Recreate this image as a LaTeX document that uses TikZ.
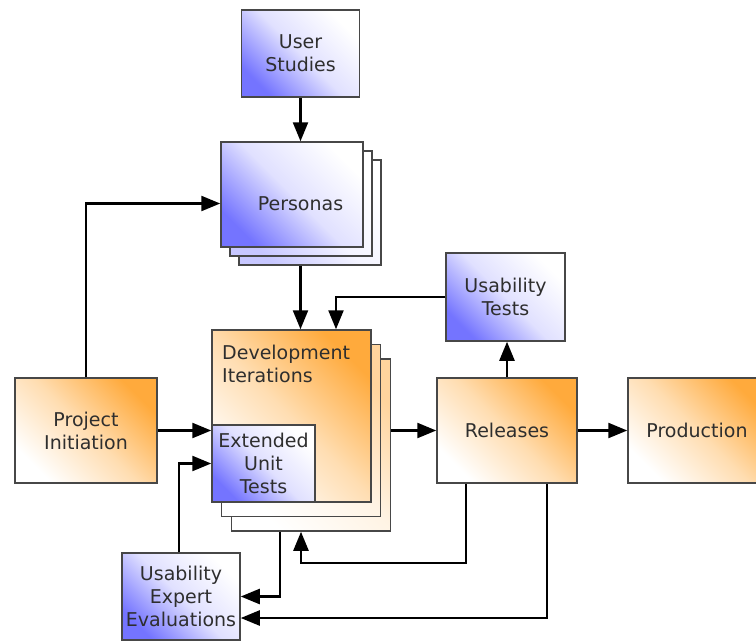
\documentclass[tikz,border=0pt]{standalone}
\usepackage{fontspec}
\setmainfont{DejaVu Sans}
\usetikzlibrary{arrows.meta,calc}
\definecolor{edge}{HTML}{474747}
\definecolor{ink}{HTML}{2E2E2E}
\definecolor{bluedeep}{HTML}{7474FF}
\definecolor{orangedeep}{HTML}{FFAA3C}
\tikzset{
  box/.style={draw=edge, line width=1.5pt, inner sep=0pt, align=center,
    text=ink, font=\fontsize{19}{23}\selectfont},
  bluebox/.style={box, top color=white, bottom color=bluedeep,
    middle color=bluedeep!22!white, shading angle=-45},
  bluelayer/.style={box, top color=white, bottom color=bluedeep!40!white,
    middle color=bluedeep!8!white, shading angle=-45},
  orangebox/.style={box, top color=orangedeep, bottom color=white,
    middle color=orangedeep!40!white, shading angle=-45},
  orangelayer/.style={box, top color=orangedeep!50!white, bottom color=white,
    middle color=orangedeep!14!white, shading angle=-45},
  label/.style={inner sep=0pt, align=center, text=ink, font=\fontsize{19}{23}\selectfont},
  flow/.style={draw=black, line width=2.4pt, -{Triangle[length=19pt,width=15pt]}},
}
\begin{document}
\begin{tikzpicture}[x=1pt, y=-1pt]
\useasboundingbox (0,0) rectangle (756,641);
\fill[white] (0,0) rectangle (756,641);
\clip (0,0) rectangle (756,641);

% user research
\node[bluebox, minimum width=118pt, minimum height=87pt] (us) at (300.5,53.5) {User\\Studies};

% personas stack
\node[bluelayer, minimum width=142pt, minimum height=105pt] (pers3) at (310,212.5) {};
\node[bluelayer, minimum width=142pt, minimum height=105pt] (pers2) at (301,203.5) {};
\node[bluebox, minimum width=142pt, minimum height=105pt] (pers1) at (292,194.5) {};
\node[label] (ptext) at (300.5,203.5) {Personas};

% development iterations stack
\node[orangelayer, minimum width=159pt, minimum height=172pt] (dev3) at (311,445) {};
\node[orangelayer, minimum width=159pt, minimum height=172pt] (dev2) at (301,430.5) {};
\node[orangebox, minimum width=159pt, minimum height=172pt] (dev1) at (291.5,416) {};
\node[label, align=left, anchor=north west] (devtext) at (222,345) {Development\\Iterations};
\node[bluebox, minimum width=103pt, minimum height=77pt] (eut) at (263.5,463.5) {Extended\\Unit\\Tests};

% remaining boxes
\node[orangebox, minimum width=142pt, minimum height=105pt] (pi) at (86,430.5) {Project\\Initiation};
\node[bluebox, minimum width=119pt, minimum height=88pt] (ut) at (505.5,297) {Usability\\Tests};
\node[orangebox, minimum width=140pt, minimum height=105pt] (rel) at (507,430.5) {Releases};
\node[orangebox, minimum width=138pt, minimum height=105pt] (prod) at (697,430.5) {Production};
\node[bluebox, minimum width=118pt, minimum height=87pt] (uee) at (181,596.5) {Usability\\Expert\\Evaluations};

% connectors
\draw[flow] (us.south) -- (us.south |- pers1.north);
\draw[flow] (us.south |- pers3.south) -- (us.south |- dev1.north);
\draw[flow] (pi.north) |- (pers1.west |- ptext.center);
\draw[flow] (pi.east) -- (pi.east -| dev1.west);
\draw[flow] ([xshift=-2pt]uee.north) |- (eut.west);
\draw[flow] (dev3.east |- rel.west) -- (rel.west);
\draw[flow] (rel.east) -- (prod.west);
\draw[flow] (rel.north) -- (rel.north |- ut.south);
\draw[flow] (ut.west) -| ([xshift=44.5pt]dev1.north);
\draw[flow] ([xshift=-41pt]rel.south) -- ++(0,79) -| ([xshift=-10pt]dev3.south);
\draw[flow] ([xshift=-31pt]dev3.south) |- (uee.east);
\draw[flow] ([xshift=40pt]rel.south) |- ([yshift=-21.5pt]uee.east);
\end{tikzpicture}
\end{document}
